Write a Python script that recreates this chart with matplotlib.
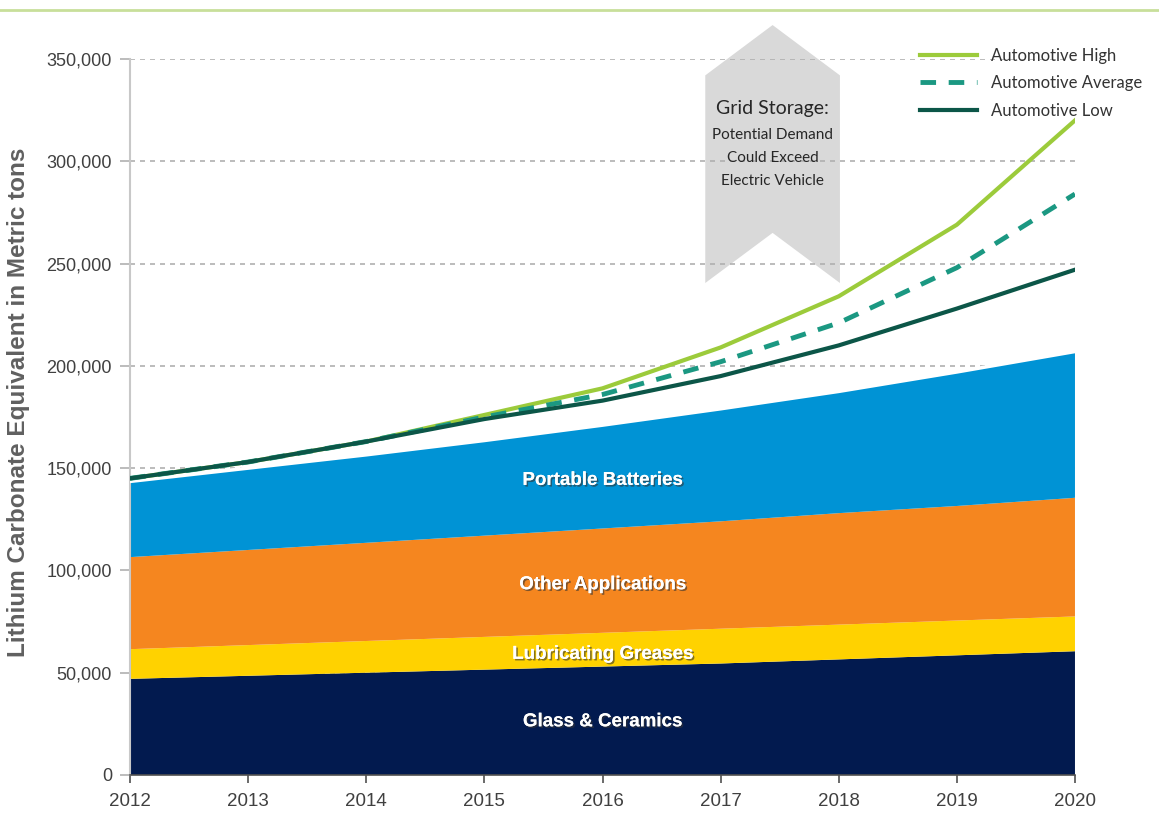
import matplotlib
matplotlib.use("Agg")
import matplotlib.pyplot as plt
import matplotlib.patheffects as pe
from matplotlib.patches import Polygon
from matplotlib.lines import Line2D
from matplotlib.ticker import FuncFormatter

years = [2012, 2013, 2014, 2015, 2016, 2017, 2018, 2019, 2020]
glass = [47000, 48500, 50000, 51500, 53000, 54500, 56500, 58500, 60500]
greases = [14500, 15000, 15500, 16000, 16500, 17000, 17000, 17000, 17000]
other = [45000, 46500, 48000, 49500, 51000, 52500, 54500, 56000, 58000]
portable = [37000, 40000, 43000, 46500, 50500, 55000, 59500, 65500, 71500]
auto_high = [145000, 153000, 163000, 176000, 189000, 209000, 234000, 269000, 320000]
auto_avg = [145000, 153000, 163000, 175000, 186000, 202000, 221000, 248000, 284000]
auto_low = [145000, 153000, 163000, 174000, 183000, 195000, 210000, 228000, 247000]
layer_names = ["Glass & Ceramics", "Lubricating Greases", "Other Applications", "Portable Batteries"]
yticks = [0, 50000, 100000, 150000, 200000, 250000, 300000, 350000]

c_navy = "#021a4f"
c_yellow = "#ffd200"
c_orange = "#f5861f"
c_blue = "#0093d5"
c_high = "#9ccb3b"
c_avg = "#1b9882"
c_low = "#0c5648"

fig = plt.figure(figsize=(11.59, 8.15), dpi=100)
ax = fig.add_axes([0.1122, 0.0491, 0.8153, 0.8785])

ax.stackplot(years, glass, greases, other, portable,
             colors=[c_navy, c_yellow, c_orange, c_blue], linewidth=0, zorder=2)

# white gap above the stack
top = [g + r + o + p for g, r, o, p in zip(glass, greases, other, portable)]
ax.plot(years, top, color="white", lw=2.5, zorder=3)

ax.plot(years, auto_high, color=c_high, lw=3, zorder=5)
ax.plot(years, auto_avg, color=c_avg, lw=3.5, ls=(0, (3.2, 2.6)), zorder=5)
ax.plot(years, auto_low, color=c_low, lw=3, zorder=5)

ax.set_xlim(2012, 2020)
ax.set_ylim(0, 350000)
ax.set_xticks(years)
ax.set_yticks(yticks)
ax.yaxis.set_major_formatter(FuncFormatter(lambda v, p: f"{int(v):,}"))
for yv in yticks[1:]:
    ax.axhline(yv, color="#b0b0b0", lw=1.2, ls=(0, (3, 3)), zorder=1)

for s in ["top", "right"]:
    ax.spines[s].set_visible(False)
ax.spines["left"].set_color("#c8c8c8")
ax.spines["left"].set_linewidth(1.5)
ax.spines["bottom"].set_color("#505050")
ax.spines["bottom"].set_linewidth(1.2)
ax.tick_params(axis="y", length=7, width=1.2, color="#b0b0b0", labelsize=13,
               labelcolor="#404040", pad=6)
ax.tick_params(axis="x", length=6, width=1.2, color="#505050", labelsize=13.5,
               labelcolor="#404040", pad=7, direction="out")
for lab in ax.get_xticklabels() + ax.get_yticklabels():
    lab.set_family("Liberation Sans")

ax.set_ylabel("Lithium Carbonate Equivalent in Metric tons", fontsize=17.5,
              fontweight="bold", color="#606060", family="Liberation Sans")
ax.yaxis.set_label_coords(-0.1055, 0.52)

# area labels
shadow = [pe.withSimplePatchShadow(offset=(1.2, -1.2), shadow_rgbFace="#333333", alpha=0.6), pe.Normal()]
label_y = [26000, 59000, 93000, 144000]
for name, ly in zip(layer_names, label_y):
    ax.text(2016, ly, name, ha="center", va="center", color="white",
            fontsize=13.5, fontweight="bold", family="Liberation Sans",
            path_effects=shadow, zorder=6)

# grid storage banner
poly = Polygon([(2016.87, 342000), (2017.44, 366600), (2018.01, 342000),
                (2018.01, 240500), (2017.44, 265000), (2016.87, 240500)],
               closed=True, facecolor="#d9d9d9", edgecolor="none",
               clip_on=False, zorder=0)
ax.add_patch(poly)
ax.text(2017.44, 326000, "Grid Storage:", ha="center", va="center",
        fontsize=14, color="#262626", family="Lato", zorder=6)
ax.text(2017.44, 316500, "Potential Demand\nCould Exceed\nElectric Vehicle",
        ha="center", va="top", fontsize=11, color="#262626", family="Lato",
        linespacing=1.85, zorder=6)

handles = [Line2D([], [], color=c_high, lw=3),
           Line2D([], [], color=c_avg, lw=3.5, ls=(0, (3.2, 2.6))),
           Line2D([], [], color=c_low, lw=3)]
leg = ax.legend(handles, ["Automotive High", "Automotive Average", "Automotive Low"],
                loc="upper left", bbox_to_anchor=(0.82, 1.037), frameon=False,
                prop={"family": "Lato", "size": 12}, handlelength=3.4,
                handletextpad=0.85, labelspacing=0.7, labelcolor="#333333")

fig.add_artist(Line2D([0.0, 1.0], [0.988, 0.988], color="#c8df9a", lw=2,
                      transform=fig.transFigure))

fig.savefig("out.png", dpi=100)
